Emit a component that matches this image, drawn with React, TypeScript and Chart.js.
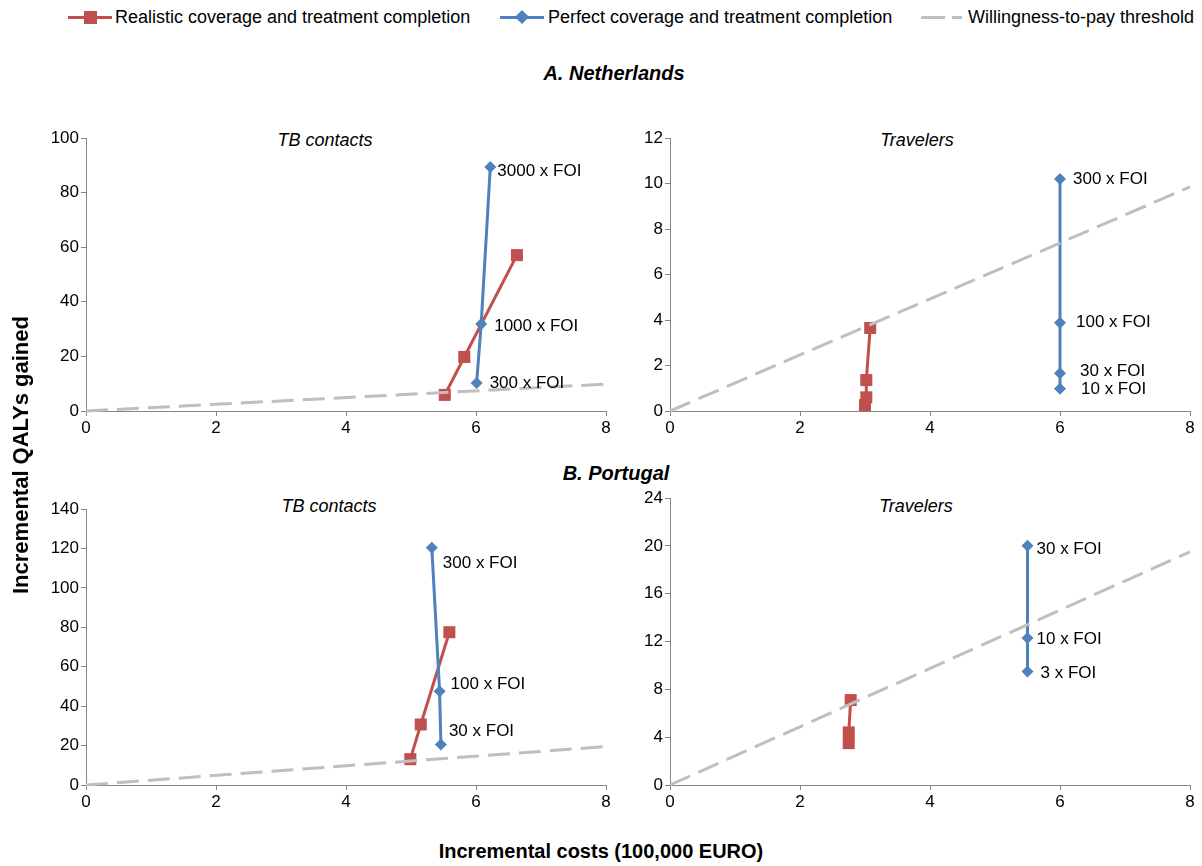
import React, { useEffect, useRef } from 'react';
import { Chart, registerables } from 'chart.js';

Chart.register(...registerables);

// ---------- DATA ----------
const xTickValues = [0, 2, 4, 6, 8];

// A. Netherlands – TB contacts
const nlContactsRealX = [5.52, 5.82, 6.63];
const nlContactsRealY = [5.9, 19.8, 57.1];
const nlContactsPerfX = [6.01, 6.08, 6.22];
const nlContactsPerfY = [10.3, 31.9, 89.4];
const nlContactsLabels = ['300 x FOI', '1000 x FOI', '3000 x FOI'];
const nlContactsYTicks = [0, 20, 40, 60, 80, 100];

// A. Netherlands – Travelers
const nlTravRealX = [3.0, 3.02, 3.02, 3.08];
const nlTravRealY = [0.26, 0.6, 1.36, 3.65];
const nlTravPerfX = [6.0, 6.0, 6.0, 6.0];
const nlTravPerfY = [0.98, 1.66, 3.88, 10.2];
const nlTravLabels = ['10 x FOI', '30 x FOI', '100 x FOI', '300 x FOI'];
const nlTravYTicks = [0, 2, 4, 6, 8, 10, 12];

// B. Portugal – TB contacts
const ptContactsRealX = [4.99, 5.15, 5.59];
const ptContactsRealY = [13.1, 30.7, 77.5];
const ptContactsPerfX = [5.46, 5.44, 5.32];
const ptContactsPerfY = [20.6, 47.5, 120.4];
const ptContactsLabels = ['30 x FOI', '100 x FOI', '300 x FOI'];
const ptContactsYTicks = [0, 20, 40, 60, 80, 100, 120, 140];

// B. Portugal – Travelers
const ptTravRealX = [2.75, 2.75, 2.78];
const ptTravRealY = [3.5, 4.4, 7.1];
const ptTravPerfX = [5.5, 5.5, 5.5];
const ptTravPerfY = [9.5, 12.3, 20.0];
const ptTravLabels = ['3 x FOI', '10 x FOI', '30 x FOI'];
const ptTravYTicks = [0, 4, 8, 12, 16, 20, 24];

// Willingness-to-pay threshold lines (cost, QALY)
const wtpX = [0, 8];
const nlWtpY = [0, 9.85];
const ptWtpY = [0, 19.5];

// ---------- STYLE / LAYOUT ----------
const RED = '#C0504D';
const BLUE = '#4F81BD';
const GRAY = '#BFBFBF';
const AXIS = '#868686';
const FONT = 'Arial, "Liberation Sans", sans-serif';

// label offsets (px) relative to the blue points
const nlContactsOff = [[13, 0], [13, 2], [7, 4]];
const nlTravOff = [[21, 1], [20, -2], [16, 0], [13, 0]];
const ptContactsOff = [[8, -13], [11, -7], [11, 16]];
const ptTravOff = [[13, 2], [9, 1], [9, 3]];

type PanelCfg = {
  left: number; top: number; w: number; h: number;
  yAxisW: number; xAxisH: number; padTop: number; padRight: number;
  realX: number[]; realY: number[]; perfX: number[]; perfY: number[];
  labels: string[]; offsets: number[][]; wtpY: number[]; yTicks: number[];
};

const zip = (xs: number[], ys: number[]) => xs.map((x, i) => ({ x, y: ys[i] }));

const panels: PanelCfg[] = [
  { left: 30, top: 125, w: 590, h: 320, yAxisW: 56, xAxisH: 34, padTop: 13, padRight: 14,
    realX: nlContactsRealX, realY: nlContactsRealY, perfX: nlContactsPerfX, perfY: nlContactsPerfY,
    labels: nlContactsLabels, offsets: nlContactsOff, wtpY: nlWtpY, yTicks: nlContactsYTicks },
  { left: 620, top: 125, w: 582, h: 320, yAxisW: 50, xAxisH: 34, padTop: 13, padRight: 12,
    realX: nlTravRealX, realY: nlTravRealY, perfX: nlTravPerfX, perfY: nlTravPerfY,
    labels: nlTravLabels, offsets: nlTravOff, wtpY: nlWtpY, yTicks: nlTravYTicks },
  { left: 30, top: 490, w: 590, h: 330, yAxisW: 56, xAxisH: 35, padTop: 19, padRight: 14,
    realX: ptContactsRealX, realY: ptContactsRealY, perfX: ptContactsPerfX, perfY: ptContactsPerfY,
    labels: ptContactsLabels, offsets: ptContactsOff, wtpY: ptWtpY, yTicks: ptContactsYTicks },
  { left: 620, top: 480, w: 582, h: 340, yAxisW: 50, xAxisH: 35, padTop: 18, padRight: 12,
    realX: ptTravRealX, realY: ptTravRealY, perfX: ptTravPerfX, perfY: ptTravPerfY,
    labels: ptTravLabels, offsets: ptTravOff, wtpY: ptWtpY, yTicks: ptTravYTicks },
];

function Panel({ cfg }: { cfg: PanelCfg }) {
  const ref = useRef<HTMLCanvasElement>(null);
  useEffect(() => {
    const labelPlugin = {
      id: 'foiLabels',
      afterDatasetsDraw(chart: any) {
        const meta = chart.getDatasetMeta(1);
        const ctx = chart.ctx;
        ctx.save();
        ctx.font = `17px ${FONT}`;
        ctx.fillStyle = '#000';
        ctx.textBaseline = 'middle';
        ctx.textAlign = 'left';
        meta.data.forEach((pt: any, i: number) => {
          const [dx, dy] = cfg.offsets[i];
          ctx.fillText(cfg.labels[i], pt.x + dx, pt.y + dy);
        });
        ctx.restore();
      },
    };
    const axisCommon = {
      type: 'linear' as const,
      grid: { drawOnChartArea: false, color: AXIS, tickColor: AXIS, tickLength: 5, lineWidth: 1 },
      border: { color: AXIS, width: 1 },
      ticks: { color: '#000', font: { family: FONT, size: 17 }, padding: 2 },
    };
    const chart = new Chart(ref.current!, {
      type: 'scatter',
      data: {
        datasets: [
          {
            data: zip(cfg.realX, cfg.realY), showLine: true, borderColor: RED, backgroundColor: RED,
            borderWidth: 3, pointStyle: 'rect', pointRadius: 8.5, pointBorderWidth: 0,
            clip: false, order: 2,
          } as any,
          {
            data: zip(cfg.perfX, cfg.perfY), showLine: true, borderColor: BLUE, backgroundColor: BLUE,
            borderWidth: 3, pointStyle: 'rectRot', pointRadius: 6, pointBorderWidth: 0,
            clip: false, order: 1,
          } as any,
          {
            data: zip(wtpX, cfg.wtpY), showLine: true, borderColor: GRAY, borderWidth: 3,
            borderDash: [22, 9], pointRadius: 0, clip: false, order: 0,
          } as any,
        ],
      },
      options: {
        animation: false,
        responsive: false,
        layout: { padding: { top: cfg.padTop, right: cfg.padRight, left: 0, bottom: 0 } },
        plugins: { legend: { display: false }, tooltip: { enabled: false } },
        scales: {
          x: {
            ...axisCommon, min: 0, max: 8,
            afterBuildTicks: (s: any) => { s.ticks = xTickValues.map((v) => ({ value: v })); },
            afterFit: (s: any) => { s.height = cfg.xAxisH; },
          },
          y: {
            ...axisCommon, min: 0, max: cfg.yTicks[cfg.yTicks.length - 1],
            afterBuildTicks: (s: any) => { s.ticks = cfg.yTicks.map((v) => ({ value: v })); },
            afterFit: (s: any) => { s.width = cfg.yAxisW; },
          },
        },
      } as any,
      plugins: [labelPlugin],
    });
    return () => chart.destroy();
  }, []);
  return (
    <canvas ref={ref} width={cfg.w} height={cfg.h}
      style={{ position: 'absolute', left: cfg.left, top: cfg.top, width: cfg.w, height: cfg.h }} />
  );
}

const txt = (s: React.CSSProperties): React.CSSProperties => ({
  position: 'absolute', whiteSpace: 'nowrap', fontFamily: FONT, color: '#000', lineHeight: 1, ...s,
});

export default function App() {
  const legendFont = '"Liberation Sans Narrow", "Arial Narrow", Arial, sans-serif';
  return (
    <div style={{ position: 'absolute', left: 0, top: 0, width: 1202, height: 866, background: '#fff', overflow: 'hidden' }}>
      {/* Legend */}
      <div style={{ position: 'absolute', left: 68, top: 16, width: 44, height: 3, background: RED }} />
      <div style={{ position: 'absolute', left: 84, top: 11, width: 13, height: 13, background: RED }} />
      <div style={txt({ left: 115, top: 8, fontSize: 18, fontFamily: legendFont })}>Realistic coverage and treatment completion</div>

      <div style={{ position: 'absolute', left: 500, top: 16, width: 44, height: 3, background: BLUE }} />
      <div style={{ position: 'absolute', left: 517, top: 12, width: 10, height: 10, background: BLUE, transform: 'rotate(45deg)' }} />
      <div style={txt({ left: 548, top: 8, fontSize: 18, fontFamily: legendFont })}>Perfect coverage and treatment completion</div>

      <div style={{ position: 'absolute', left: 921, top: 16, width: 24, height: 3, background: GRAY }} />
      <div style={{ position: 'absolute', left: 952, top: 16, width: 10, height: 3, background: GRAY }} />
      <div style={txt({ left: 968, top: 8, fontSize: 18, fontFamily: legendFont })}>Willingness-to-pay threshold</div>

      {/* Section titles */}
      <div style={txt({ left: 614, top: 73, transform: 'translate(-50%,-50%)', fontSize: 20, fontWeight: 'bold', fontStyle: 'italic' })}>A. Netherlands</div>
      <div style={txt({ left: 616, top: 473, transform: 'translate(-50%,-50%)', fontSize: 20, fontWeight: 'bold', fontStyle: 'italic' })}>B. Portugal</div>

      {/* Panel titles */}
      <div style={txt({ left: 325, top: 140, transform: 'translate(-50%,-50%)', fontSize: 18, fontStyle: 'italic' })}>TB contacts</div>
      <div style={txt({ left: 917, top: 140, transform: 'translate(-50%,-50%)', fontSize: 18, fontStyle: 'italic' })}>Travelers</div>
      <div style={txt({ left: 329, top: 506, transform: 'translate(-50%,-50%)', fontSize: 18, fontStyle: 'italic' })}>TB contacts</div>
      <div style={txt({ left: 916, top: 506, transform: 'translate(-50%,-50%)', fontSize: 18, fontStyle: 'italic' })}>Travelers</div>

      {panels.map((p, i) => <Panel key={i} cfg={p} />)}

      {/* Axis titles */}
      <div style={txt({ left: 601, top: 851, transform: 'translate(-50%,-50%)', fontSize: 20, fontWeight: 'bold' })}>Incremental costs (100,000 EURO)</div>
      <div style={txt({ left: 21, top: 455, transform: 'translate(-50%,-50%) rotate(-90deg)', fontSize: 22, fontWeight: 'bold' })}>Incremental QALYs gained</div>
    </div>
  );
}
